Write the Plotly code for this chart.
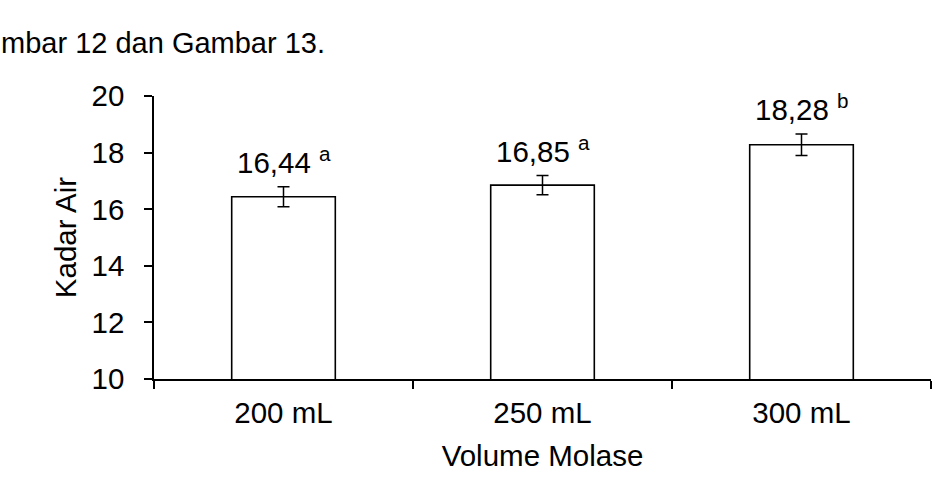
import plotly.graph_objects as go

categories = ["200 mL", "250 mL", "300 mL"]
values = [16.44, 16.85, 18.28]
errors = [0.35, 0.34, 0.38]
value_labels = ["16,44", "16,85", "18,28"]
letters = ["a", "a", "b"]
y_ticks = [10, 12, 14, 16, 18, 20]

FONT = "Arial, Liberation Sans, sans-serif"
FS = 29.5

W, H = 937, 481
L, R, T, B = 154, 6, 96, 102
pw, ph = W - L - R, H - T - B

fig = go.Figure()
fig.add_trace(go.Bar(
    x=categories, y=values, width=0.4,
    marker=dict(color="white", line=dict(color="black", width=1.6)),
    error_y=dict(type="data", array=errors, visible=True, color="black",
                 thickness=1.5, width=6),
    showlegend=False,
))

annotations = []
for c, v, e, lab, let in zip(categories, values, errors, value_labels, letters):
    annotations.append(dict(
        x=c, y=v + e, xref="x", yref="y", yanchor="bottom", xanchor="center",
        text=f"{lab} <sup>{let}</sup>", showarrow=False, yshift=6,
        font=dict(size=FS, color="black", family=FONT),
    ))

# document text fragment above the chart
annotations.append(dict(
    x=(-L - 1) / pw, y=(H - B - 43) / ph, xref="paper", yref="paper",
    text="mbar 12 dan Gambar 13.",
    showarrow=False, xanchor="left", yanchor="middle",
    font=dict(size=29, color="black", family=FONT),
))

fig.update_layout(
    width=W, height=H,
    margin=dict(l=L, r=R, t=T, b=B),
    paper_bgcolor="white", plot_bgcolor="white",
    font=dict(family=FONT, color="black", size=FS),
    bargap=0.6,
    annotations=annotations,
    xaxis=dict(
        type="category", range=[-0.5, 2.5], tickson="boundaries",
        showline=True, linecolor="black", linewidth=1.5,
        ticks="outside", ticklen=8, tickwidth=1.5, tickcolor="black",
        tickfont=dict(size=FS, family=FONT, color="black"),
        ticklabelstandoff=7,
        showgrid=False, zeroline=False,
        title=dict(text="Volume Molase", font=dict(size=FS, family=FONT, color="black"), standoff=17),
    ),
    yaxis=dict(
        range=[10, 20], tickvals=y_ticks, ticktext=[str(t) for t in y_ticks],
        showline=True, linecolor="black", linewidth=1.5,
        ticks="outside", ticklen=8, tickwidth=1.5, tickcolor="black",
        tickfont=dict(size=FS, family=FONT, color="black"),
        ticklabelstandoff=14,
        showgrid=False, zeroline=False,
        title=dict(text="Kadar Air", font=dict(size=FS, family=FONT, color="black"), standoff=6),
    ),
)

fig.write_html("out.html")
